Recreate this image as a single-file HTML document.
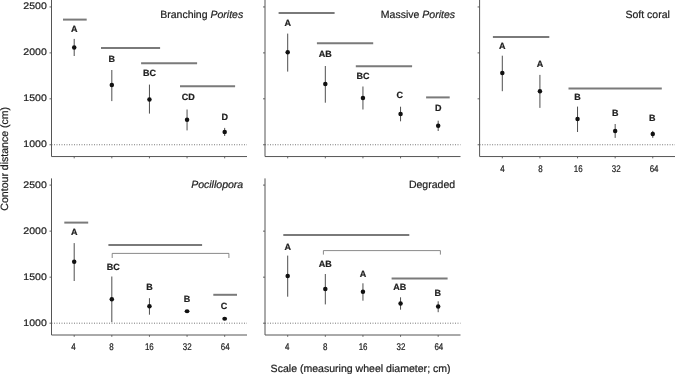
<!DOCTYPE html>
<html><head><meta charset="utf-8"><title>Contour distance by scale</title>
<style>
html,body{margin:0;padding:0;background:#fff;}
body{width:675px;height:374px;overflow:hidden;}
svg{display:block;}
text{font-family:"Liberation Sans",Arial,Helvetica,sans-serif;fill:#1f1f1f;stroke:#1f1f1f;stroke-width:0.22px;text-rendering:geometricPrecision;}
.yl{font-size:9.5px;text-anchor:end;}
.xl{font-size:9.7px;text-anchor:middle;}
.tt{font-size:10.52px;text-anchor:end;}
.lb{font-size:9px;font-weight:bold;text-anchor:middle;}
.at{font-size:10.56px;text-anchor:middle;}
</style></head><body>
<svg width="675" height="374" viewBox="0 0 675 374">
<rect width="675" height="374" fill="#fff"/>
<line x1="51.50" y1="144.75" x2="247.00" y2="144.75" stroke="#6a6a6a" stroke-width="0.9" stroke-dasharray="1 1.5"/>
<path d="M51.50 0V156.55H247.00" fill="none" stroke="#555" stroke-width="1.0"/>
<line x1="49.50" y1="6.95" x2="51.50" y2="6.95" stroke="#555" stroke-width="0.9" />
<text transform="translate(46.80 9.05) scale(1.11 1)" class="yl" >2500</text>
<line x1="49.50" y1="52.88" x2="51.50" y2="52.88" stroke="#555" stroke-width="0.9" />
<text transform="translate(46.80 54.98) scale(1.11 1)" class="yl" >2000</text>
<line x1="49.50" y1="98.82" x2="51.50" y2="98.82" stroke="#555" stroke-width="0.9" />
<text transform="translate(46.80 100.92) scale(1.11 1)" class="yl" >1500</text>
<line x1="49.50" y1="144.75" x2="51.50" y2="144.75" stroke="#555" stroke-width="0.9" />
<text transform="translate(46.80 146.85) scale(1.11 1)" class="yl" >1000</text>
<line x1="74.20" y1="156.55" x2="74.20" y2="158.35" stroke="#555" stroke-width="0.9" />
<line x1="111.82" y1="156.55" x2="111.82" y2="158.35" stroke="#555" stroke-width="0.9" />
<line x1="149.44" y1="156.55" x2="149.44" y2="158.35" stroke="#555" stroke-width="0.9" />
<line x1="187.06" y1="156.55" x2="187.06" y2="158.35" stroke="#555" stroke-width="0.9" />
<line x1="224.68" y1="156.55" x2="224.68" y2="158.35" stroke="#555" stroke-width="0.9" />
<text x="243.20" y="17.70" class="tt" >Branching <tspan font-style="italic">Porites</tspan></text>
<line x1="63.00" y1="19.60" x2="86.70" y2="19.60" stroke="#7a7a7a" stroke-width="2.0" />
<line x1="101.00" y1="47.90" x2="160.10" y2="47.90" stroke="#7a7a7a" stroke-width="2.0" />
<line x1="141.10" y1="63.20" x2="197.10" y2="63.20" stroke="#7a7a7a" stroke-width="2.0" />
<line x1="180.00" y1="86.20" x2="235.10" y2="86.20" stroke="#7a7a7a" stroke-width="2.0" />
<line x1="74.20" y1="38.90" x2="74.20" y2="56.00" stroke="#444" stroke-width="0.95" />
<circle cx="74.20" cy="47.60" r="2.25" fill="#111"/>
<text x="74.20" y="31.95" class="lb" >A</text>
<line x1="111.82" y1="70.00" x2="111.82" y2="101.10" stroke="#444" stroke-width="0.95" />
<circle cx="111.82" cy="84.90" r="2.25" fill="#111"/>
<text x="111.82" y="61.65" class="lb" >B</text>
<line x1="149.44" y1="84.60" x2="149.44" y2="113.60" stroke="#444" stroke-width="0.95" />
<circle cx="149.44" cy="99.60" r="2.25" fill="#111"/>
<text x="149.44" y="75.85" class="lb" >BC</text>
<line x1="187.06" y1="109.50" x2="187.06" y2="130.40" stroke="#444" stroke-width="0.95" />
<circle cx="187.06" cy="119.80" r="2.25" fill="#111"/>
<text x="188.26" y="100.25" class="lb" >CD</text>
<line x1="224.68" y1="127.90" x2="224.68" y2="136.00" stroke="#444" stroke-width="0.95" />
<circle cx="224.68" cy="131.90" r="2.25" fill="#111"/>
<text x="224.68" y="120.35" class="lb" >D</text>
<line x1="265.00" y1="144.75" x2="460.50" y2="144.75" stroke="#6a6a6a" stroke-width="0.9" stroke-dasharray="1 1.5"/>
<path d="M265.00 0V156.55H460.50" fill="none" stroke="#555" stroke-width="1.0"/>
<line x1="263.00" y1="6.95" x2="265.00" y2="6.95" stroke="#555" stroke-width="0.9" />
<line x1="263.00" y1="52.88" x2="265.00" y2="52.88" stroke="#555" stroke-width="0.9" />
<line x1="263.00" y1="98.82" x2="265.00" y2="98.82" stroke="#555" stroke-width="0.9" />
<line x1="263.00" y1="144.75" x2="265.00" y2="144.75" stroke="#555" stroke-width="0.9" />
<line x1="287.70" y1="156.55" x2="287.70" y2="158.35" stroke="#555" stroke-width="0.9" />
<line x1="325.32" y1="156.55" x2="325.32" y2="158.35" stroke="#555" stroke-width="0.9" />
<line x1="362.94" y1="156.55" x2="362.94" y2="158.35" stroke="#555" stroke-width="0.9" />
<line x1="400.56" y1="156.55" x2="400.56" y2="158.35" stroke="#555" stroke-width="0.9" />
<line x1="438.18" y1="156.55" x2="438.18" y2="158.35" stroke="#555" stroke-width="0.9" />
<text x="455.10" y="17.70" class="tt" >Massive <tspan font-style="italic">Porites</tspan></text>
<line x1="278.60" y1="13.10" x2="334.60" y2="13.10" stroke="#7a7a7a" stroke-width="2.0" />
<line x1="316.90" y1="43.20" x2="373.20" y2="43.20" stroke="#7a7a7a" stroke-width="2.0" />
<line x1="355.80" y1="66.30" x2="412.10" y2="66.30" stroke="#7a7a7a" stroke-width="2.0" />
<line x1="426.10" y1="97.40" x2="449.70" y2="97.40" stroke="#7a7a7a" stroke-width="2.0" />
<line x1="287.70" y1="33.60" x2="287.70" y2="71.60" stroke="#444" stroke-width="0.95" />
<circle cx="287.70" cy="52.30" r="2.25" fill="#111"/>
<text x="287.70" y="26.05" class="lb" >A</text>
<line x1="325.32" y1="66.00" x2="325.32" y2="102.70" stroke="#444" stroke-width="0.95" />
<circle cx="325.32" cy="84.00" r="2.25" fill="#111"/>
<text x="325.32" y="56.55" class="lb" >AB</text>
<line x1="362.94" y1="86.50" x2="362.94" y2="109.50" stroke="#444" stroke-width="0.95" />
<circle cx="362.94" cy="98.00" r="2.25" fill="#111"/>
<text x="362.94" y="78.95" class="lb" >BC</text>
<line x1="400.56" y1="106.70" x2="400.56" y2="121.30" stroke="#444" stroke-width="0.95" />
<circle cx="400.56" cy="113.90" r="2.25" fill="#111"/>
<text x="399.76" y="97.95" class="lb" >C</text>
<line x1="438.18" y1="120.70" x2="438.18" y2="131.00" stroke="#444" stroke-width="0.95" />
<circle cx="438.18" cy="125.70" r="2.25" fill="#111"/>
<text x="438.18" y="111.15" class="lb" >D</text>
<line x1="479.60" y1="144.75" x2="675.00" y2="144.75" stroke="#6a6a6a" stroke-width="0.9" stroke-dasharray="1 1.5"/>
<path d="M479.60 0V156.55H675.00" fill="none" stroke="#555" stroke-width="1.0"/>
<line x1="477.60" y1="6.95" x2="479.60" y2="6.95" stroke="#555" stroke-width="0.9" />
<line x1="477.60" y1="52.88" x2="479.60" y2="52.88" stroke="#555" stroke-width="0.9" />
<line x1="477.60" y1="98.82" x2="479.60" y2="98.82" stroke="#555" stroke-width="0.9" />
<line x1="477.60" y1="144.75" x2="479.60" y2="144.75" stroke="#555" stroke-width="0.9" />
<line x1="502.30" y1="156.55" x2="502.30" y2="158.35" stroke="#555" stroke-width="0.9" />
<text transform="translate(502.45 171.85) scale(0.82 1)" class="xl" >4</text>
<line x1="539.92" y1="156.55" x2="539.92" y2="158.35" stroke="#555" stroke-width="0.9" />
<text transform="translate(540.35 171.85) scale(0.82 1)" class="xl" >8</text>
<line x1="577.54" y1="156.55" x2="577.54" y2="158.35" stroke="#555" stroke-width="0.9" />
<text transform="translate(578.25 171.85) scale(0.82 1)" class="xl" >16</text>
<line x1="615.16" y1="156.55" x2="615.16" y2="158.35" stroke="#555" stroke-width="0.9" />
<text transform="translate(616.15 171.85) scale(0.82 1)" class="xl" >32</text>
<line x1="652.78" y1="156.55" x2="652.78" y2="158.35" stroke="#555" stroke-width="0.9" />
<text transform="translate(654.05 171.85) scale(0.82 1)" class="xl" >64</text>
<text x="669.90" y="17.70" class="tt" >Soft coral</text>
<line x1="492.90" y1="36.90" x2="549.30" y2="36.90" stroke="#7a7a7a" stroke-width="2.0" />
<line x1="568.50" y1="88.40" x2="661.80" y2="88.40" stroke="#7a7a7a" stroke-width="2.0" />
<line x1="502.30" y1="55.70" x2="502.30" y2="91.20" stroke="#444" stroke-width="0.95" />
<circle cx="502.30" cy="73.10" r="2.25" fill="#111"/>
<text x="502.30" y="49.05" class="lb" >A</text>
<line x1="539.92" y1="74.90" x2="539.92" y2="107.90" stroke="#444" stroke-width="0.95" />
<circle cx="539.92" cy="91.20" r="2.25" fill="#111"/>
<text x="539.92" y="66.85" class="lb" >A</text>
<line x1="577.54" y1="106.60" x2="577.54" y2="132.00" stroke="#444" stroke-width="0.95" />
<circle cx="577.54" cy="119.10" r="2.25" fill="#111"/>
<text x="577.54" y="99.55" class="lb" >B</text>
<line x1="615.16" y1="124.00" x2="615.16" y2="137.90" stroke="#444" stroke-width="0.95" />
<circle cx="615.16" cy="130.90" r="2.25" fill="#111"/>
<text x="615.16" y="115.55" class="lb" >B</text>
<line x1="652.78" y1="130.90" x2="652.78" y2="137.90" stroke="#444" stroke-width="0.95" />
<circle cx="652.78" cy="134.10" r="2.25" fill="#111"/>
<text x="652.18" y="121.15" class="lb" >B</text>
<line x1="51.50" y1="323.20" x2="247.00" y2="323.20" stroke="#6a6a6a" stroke-width="0.9" stroke-dasharray="1 1.5"/>
<path d="M51.50 178.4V335.00H247.00" fill="none" stroke="#555" stroke-width="1.0"/>
<line x1="49.50" y1="185.10" x2="51.50" y2="185.10" stroke="#555" stroke-width="0.9" />
<text transform="translate(46.80 187.75) scale(1.11 1)" class="yl" >2500</text>
<line x1="49.50" y1="231.13" x2="51.50" y2="231.13" stroke="#555" stroke-width="0.9" />
<text transform="translate(46.80 233.78) scale(1.11 1)" class="yl" >2000</text>
<line x1="49.50" y1="277.17" x2="51.50" y2="277.17" stroke="#555" stroke-width="0.9" />
<text transform="translate(46.80 279.82) scale(1.11 1)" class="yl" >1500</text>
<line x1="49.50" y1="323.20" x2="51.50" y2="323.20" stroke="#555" stroke-width="0.9" />
<text transform="translate(46.80 325.85) scale(1.11 1)" class="yl" >1000</text>
<line x1="74.20" y1="335.00" x2="74.20" y2="336.80" stroke="#555" stroke-width="0.9" />
<text transform="translate(73.55 349.70) scale(0.82 1)" class="xl" >4</text>
<line x1="111.82" y1="335.00" x2="111.82" y2="336.80" stroke="#555" stroke-width="0.9" />
<text transform="translate(111.45 349.70) scale(0.82 1)" class="xl" >8</text>
<line x1="149.44" y1="335.00" x2="149.44" y2="336.80" stroke="#555" stroke-width="0.9" />
<text transform="translate(149.35 349.70) scale(0.82 1)" class="xl" >16</text>
<line x1="187.06" y1="335.00" x2="187.06" y2="336.80" stroke="#555" stroke-width="0.9" />
<text transform="translate(187.25 349.70) scale(0.82 1)" class="xl" >32</text>
<line x1="224.68" y1="335.00" x2="224.68" y2="336.80" stroke="#555" stroke-width="0.9" />
<text transform="translate(225.15 349.70) scale(0.82 1)" class="xl" >64</text>
<text x="243.20" y="187.80" class="tt" ><tspan font-style="italic">Pocillopora</tspan></text>
<line x1="64.30" y1="222.60" x2="88.20" y2="222.60" stroke="#7a7a7a" stroke-width="2.0" />
<line x1="108.40" y1="245.00" x2="202.10" y2="245.00" stroke="#7a7a7a" stroke-width="2.0" />
<line x1="213.30" y1="294.80" x2="237.00" y2="294.80" stroke="#7a7a7a" stroke-width="2.0" />
<path d="M112.20 258.00V253.40H228.90V258.00" fill="none" stroke="#6c6c6c" stroke-width="0.8"/>
<line x1="74.20" y1="243.10" x2="74.20" y2="281.00" stroke="#444" stroke-width="0.95" />
<circle cx="74.20" cy="261.80" r="2.25" fill="#111"/>
<text x="74.20" y="234.95" class="lb" >A</text>
<line x1="111.82" y1="276.50" x2="111.82" y2="322.20" stroke="#444" stroke-width="0.95" />
<circle cx="111.82" cy="299.20" r="2.25" fill="#111"/>
<text x="113.32" y="270.15" class="lb" >BC</text>
<line x1="149.44" y1="298.20" x2="149.44" y2="314.70" stroke="#444" stroke-width="0.95" />
<circle cx="149.44" cy="306.30" r="2.25" fill="#111"/>
<text x="149.44" y="290.25" class="lb" >B</text>
<line x1="187.06" y1="310.80" x2="187.06" y2="311.80" stroke="#444" stroke-width="0.95" />
<ellipse cx="187.06" cy="311.30" rx="2.4" ry="1.95" fill="#111"/>
<text x="187.06" y="301.55" class="lb" >B</text>
<line x1="224.68" y1="318.30" x2="224.68" y2="319.30" stroke="#444" stroke-width="0.95" />
<ellipse cx="224.68" cy="318.80" rx="2.4" ry="1.95" fill="#111"/>
<text x="224.08" y="308.75" class="lb" >C</text>
<line x1="265.00" y1="323.20" x2="460.50" y2="323.20" stroke="#6a6a6a" stroke-width="0.9" stroke-dasharray="1 1.5"/>
<path d="M265.00 178.4V335.00H460.50" fill="none" stroke="#555" stroke-width="1.0"/>
<line x1="263.00" y1="185.10" x2="265.00" y2="185.10" stroke="#555" stroke-width="0.9" />
<line x1="263.00" y1="231.13" x2="265.00" y2="231.13" stroke="#555" stroke-width="0.9" />
<line x1="263.00" y1="277.17" x2="265.00" y2="277.17" stroke="#555" stroke-width="0.9" />
<line x1="263.00" y1="323.20" x2="265.00" y2="323.20" stroke="#555" stroke-width="0.9" />
<line x1="287.70" y1="335.00" x2="287.70" y2="336.80" stroke="#555" stroke-width="0.9" />
<text transform="translate(287.25 349.70) scale(0.82 1)" class="xl" >4</text>
<line x1="325.32" y1="335.00" x2="325.32" y2="336.80" stroke="#555" stroke-width="0.9" />
<text transform="translate(325.15 349.70) scale(0.82 1)" class="xl" >8</text>
<line x1="362.94" y1="335.00" x2="362.94" y2="336.80" stroke="#555" stroke-width="0.9" />
<text transform="translate(363.05 349.70) scale(0.82 1)" class="xl" >16</text>
<line x1="400.56" y1="335.00" x2="400.56" y2="336.80" stroke="#555" stroke-width="0.9" />
<text transform="translate(400.95 349.70) scale(0.82 1)" class="xl" >32</text>
<line x1="438.18" y1="335.00" x2="438.18" y2="336.80" stroke="#555" stroke-width="0.9" />
<text transform="translate(438.85 349.70) scale(0.82 1)" class="xl" >64</text>
<text x="455.10" y="187.80" class="tt" >Degraded</text>
<line x1="283.30" y1="235.00" x2="409.30" y2="235.00" stroke="#7a7a7a" stroke-width="2.0" />
<line x1="391.60" y1="278.60" x2="447.60" y2="278.60" stroke="#7a7a7a" stroke-width="2.0" />
<path d="M323.40 254.60V250.60H440.40V254.60" fill="none" stroke="#6c6c6c" stroke-width="0.8"/>
<line x1="287.70" y1="255.60" x2="287.70" y2="296.70" stroke="#444" stroke-width="0.95" />
<circle cx="287.70" cy="276.00" r="2.25" fill="#111"/>
<text x="287.70" y="249.65" class="lb" >A</text>
<line x1="325.32" y1="274.00" x2="325.32" y2="304.40" stroke="#444" stroke-width="0.95" />
<circle cx="325.32" cy="288.90" r="2.25" fill="#111"/>
<text x="325.32" y="267.15" class="lb" >AB</text>
<line x1="362.94" y1="283.30" x2="362.94" y2="300.70" stroke="#444" stroke-width="0.95" />
<circle cx="362.94" cy="291.70" r="2.25" fill="#111"/>
<text x="362.94" y="277.45" class="lb" >A</text>
<line x1="400.56" y1="297.30" x2="400.56" y2="309.70" stroke="#444" stroke-width="0.95" />
<circle cx="400.56" cy="303.50" r="2.25" fill="#111"/>
<text x="399.76" y="289.55" class="lb" >AB</text>
<line x1="438.18" y1="301.30" x2="438.18" y2="312.20" stroke="#444" stroke-width="0.95" />
<circle cx="438.18" cy="306.60" r="2.25" fill="#111"/>
<text x="437.68" y="295.75" class="lb" >B</text>
<text x="360.60" y="371.50" class="at" >Scale (measuring wheel diameter; cm)</text>
<text class="at" transform="translate(8.4 158.75) rotate(-90)" x="0" y="0">Contour distance (cm)</text>
</svg>
</body></html>
